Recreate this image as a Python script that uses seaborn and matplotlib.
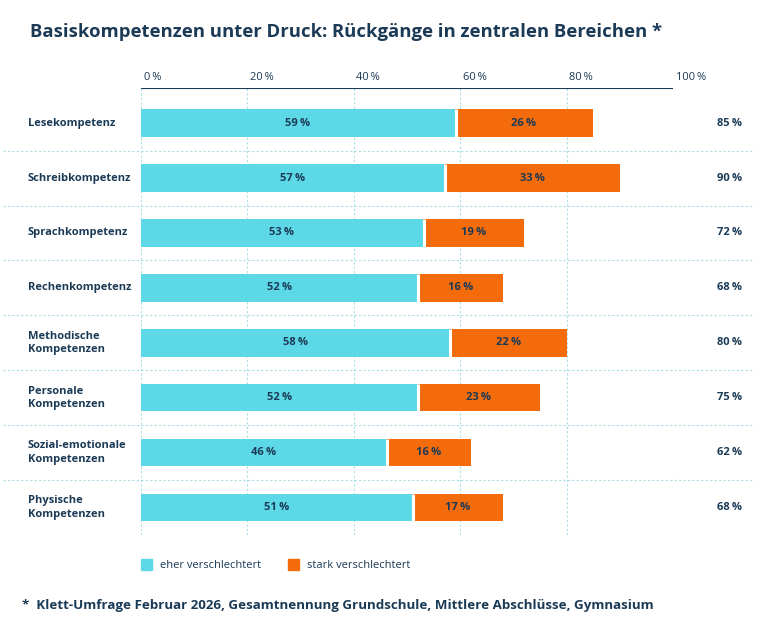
import matplotlib
matplotlib.use("Agg")
import matplotlib.pyplot as plt
import matplotlib.transforms as mtrans
import seaborn as sns
import pandas as pd

# Daten
kategorien = ["Lesekompetenz", "Schreibkompetenz", "Sprachkompetenz", "Rechenkompetenz",
              "Methodische\nKompetenzen", "Personale\nKompetenzen",
              "Sozial-emotionale\nKompetenzen", "Physische\nKompetenzen"]
eher = [59, 57, 53, 52, 58, 52, 46, 51]
stark = [26, 33, 19, 16, 22, 23, 16, 17]
gesamt = [85, 90, 72, 68, 80, 75, 62, 68]
x_ticks = [0, 20, 40, 60, 80, 100]

CYAN = "#5dd8e6"
ORANGE = "#f46b0c"
NAVY = "#1b3a56"
GRID = "#a8dfe4"

df = pd.DataFrame({"kat": kategorien, "eher": eher, "stark": stark})
df["summe"] = df["eher"] + df["stark"]

sns.set_style("white")
plt.rcParams["font.family"] = ["Open Sans", "DejaVu Sans"]

fig = plt.figure(figsize=(7.68, 6.32), dpi=100)
ax = fig.add_axes([141/768, 1-535/632, (673-141)/768, (535-88)/632])

sns.barplot(data=df, y="kat", x="summe", orient="h", color=ORANGE, width=0.5,
            saturation=1, ax=ax, linewidth=0)
sns.barplot(data=df, y="kat", x="eher", orient="h", color=CYAN, width=0.5,
            saturation=1, ax=ax, linewidth=0)
# kleiner weisser Spalt zwischen den Segmenten
for i, v in enumerate(eher):
    ax.plot([v + 0.15, v + 0.15], [i - 0.25, i + 0.25], color="white", lw=2.2,
            solid_capstyle="butt")

ax.set_xlim(0, 100)
ax.set_ylim(7.5, -0.64)
ax.set_xlabel("")
ax.set_ylabel("")
ax.set_yticks([])
ax.set_xticks([])
for s in ax.spines.values():
    s.set_visible(False)
ax.axhline(-0.64, color=NAVY, lw=0.8)

# Gitter
for t in x_ticks:
    ax.axvline(t, color=GRID, lw=0.8, ls=(0, (2, 2)), zorder=0)
    ax.text(t + 0.5, -0.74, f"{t}\u2009%", ha="left", va="bottom", fontsize=8, color=NAVY)
for i in range(len(kategorien) - 1):
    ax.plot([-26, 115], [i + 0.5, i + 0.5], color=GRID, lw=0.8, ls=(0, (2, 2)),
            clip_on=False, zorder=0)

blend = mtrans.blended_transform_factory(fig.transFigure, ax.transData)
for i, k in enumerate(kategorien):
    ax.text(28/768, i, k, transform=blend, ha="left", va="center", fontsize=8,
            fontweight="bold", color=NAVY, linespacing=1.3)
    ax.text(eher[i] / 2, i, f"{eher[i]}\u2009%", ha="center", va="center",
            fontsize=8, fontweight="bold", color=NAVY)
    ax.text(eher[i] + stark[i] / 2, i, f"{stark[i]}\u2009%", ha="center", va="center",
            fontsize=8, fontweight="bold", color=NAVY)
    ax.text(742/768, i, f"{gesamt[i]}\u2009%", transform=blend, ha="right", va="center",
            fontsize=8, fontweight="bold", color=NAVY)

fig.text(30/768, 1-32/632, "Basiskompetenzen unter Druck: Rückgänge in zentralen Bereichen *",
         fontsize=13.3, fontweight="bold", color=NAVY, va="center")

# Legende
fig.patches.append(plt.Rectangle((141/768, 1-570/632), 11/768, 11/632, color=CYAN,
                                 transform=fig.transFigure))
fig.text(160/768, 1-565/632, "eher verschlechtert", fontsize=8, color=NAVY, va="center")
fig.patches.append(plt.Rectangle((288/768, 1-570/632), 11/768, 11/632, color=ORANGE,
                                 transform=fig.transFigure))
fig.text(307/768, 1-565/632, "stark verschlechtert", fontsize=8, color=NAVY, va="center")

fig.text(22/768, 1-606/632,
         "*  Klett-Umfrage Februar 2026, Gesamtnennung Grundschule, Mittlere Abschlüsse, Gymnasium",
         fontsize=9.6, fontweight="bold", color=NAVY, va="center")

fig.savefig("out.png", dpi=100, facecolor="white")
